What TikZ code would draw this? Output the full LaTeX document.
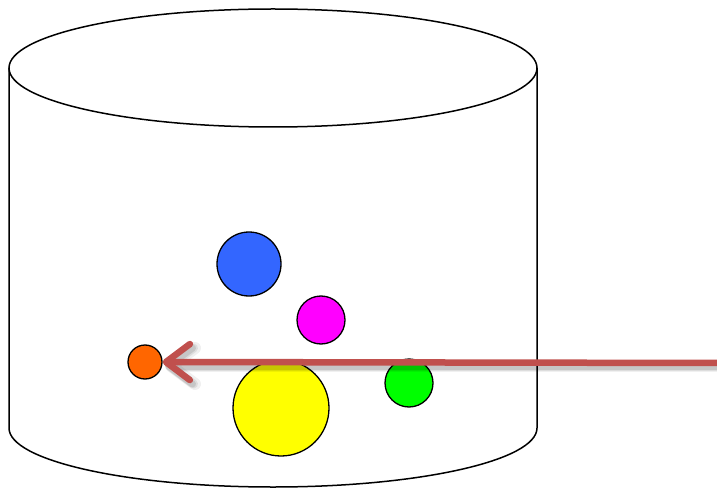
\documentclass[tikz,border=0pt]{standalone}
\usetikzlibrary{arrows.meta}
\definecolor{arrowred}{HTML}{C0504D}
\definecolor{ballblue}{HTML}{3366FF}
\definecolor{ballmagenta}{HTML}{FF00FF}
\definecolor{ballorange}{HTML}{FF6600}
\definecolor{ballyellow}{HTML}{FFFF00}
\definecolor{ballgreen}{HTML}{00FF00}
\begin{document}
\begin{tikzpicture}[x=1pt,y=-1pt,
  cyl/.style={draw=black,line width=1.5pt},
  ball/.style={circle,draw=black,line width=1.3pt,inner sep=0pt,minimum size=#1},
  pointer/.style={draw=arrowred,line width=6.5pt,
    -{Straight Barb[length=24pt,width=36pt,round]}},
  shade line/.style={draw=black,opacity=#1,
    -{Straight Barb[length=24pt,width=36pt,round]}}
]
\useasboundingbox (0,0) rectangle (717,489);
% cylinder
\draw[cyl] (9,68) -- (9,428) arc[start angle=180,end angle=360,x radius=264,y radius=-59] -- (537,68);
\draw[cyl] (273,68) ellipse [x radius=264, y radius=59];
% balls
\node[ball=64pt,fill=ballblue] (blue) at (249,264) {};
\node[ball=48pt,fill=ballmagenta] (magenta) at (321,320) {};
\node[ball=96pt,fill=ballyellow] (yellow) at (281,408) {};
\node[ball=48pt,fill=ballgreen] (green) at (409,383) {};
\node[ball=34pt,fill=ballorange] (orange) at (145,362) {};
% arrow with soft shadow
\coordinate (start) at (730,363);
\coordinate (shstart) at (731,366);
\coordinate (shend) at (165,366);
\draw[shade line=0.06,line width=12pt] (shstart) -- (shend);
\draw[shade line=0.08,line width=9pt] (shstart) -- (shend);
\draw[shade line=0.10,line width=7pt] (shstart) -- (shend);
\draw[pointer] (start) -- (orange.east);
\end{tikzpicture}
\end{document}
